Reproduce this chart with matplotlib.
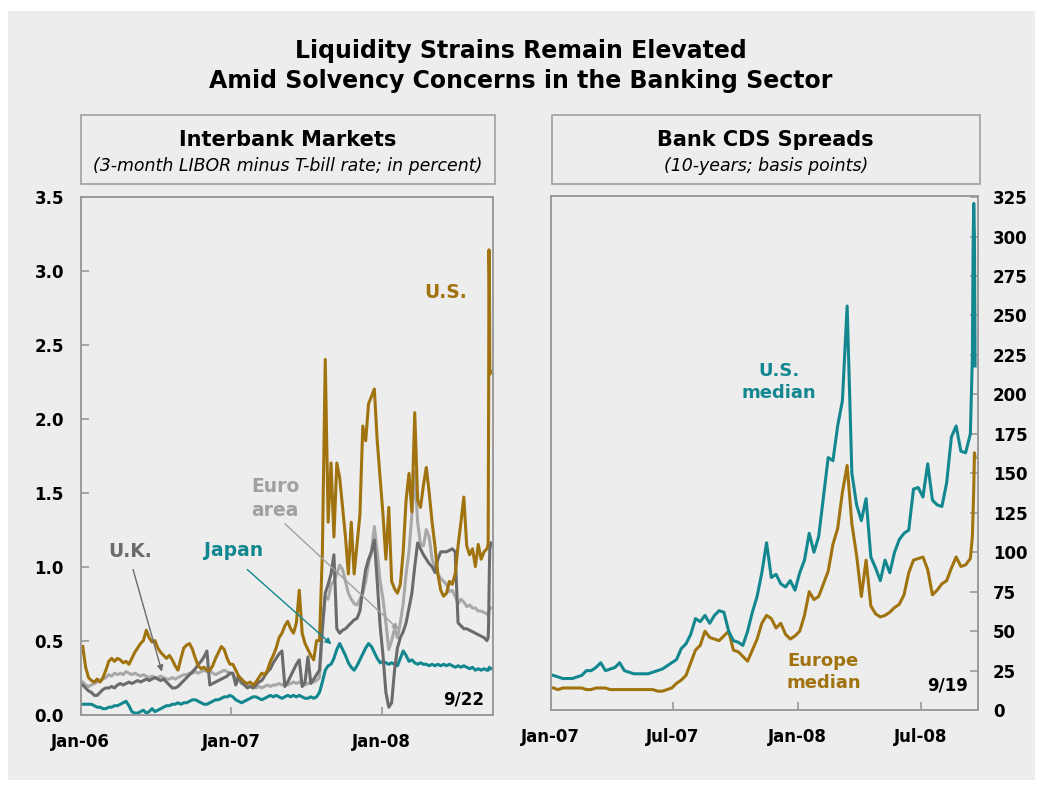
import matplotlib
matplotlib.use("Agg")
from matplotlib import pyplot as plt
from matplotlib.patches import Rectangle
import matplotlib.dates as mdates
from matplotlib.ticker import FormatStrFormatter, MultipleLocator
import pandas as pd

GOLD = "#A0730F"
TEAL = "#13878F"
DARK = "#6B6B6B"
LIGHT = "#A8A8A8"
BG = "#EDEDED"
FRAME = "#9A9A9A"

plt.rcParams["font.family"] = ["DejaVu Sans"]
plt.rcParams["font.weight"] = "bold"

# ---- interbank spreads: weekly (Fridays) then daily in mid-September 2008
lib_tail = ["2008-09-15", "2008-09-16", "2008-09-17", "2008-09-18", "2008-09-19", "2008-09-22"]
lib_dates = pd.date_range("2006-01-06", "2008-09-12", freq="W-FRI").append(pd.to_datetime(lib_tail))

us_libor = [
    # 2006
    0.46, 0.32, 0.25, 0.23, 0.22, 0.24, 0.22, 0.25, 0.30, 0.36, 0.38, 0.36, 0.38,
    0.37, 0.35, 0.36, 0.34, 0.38, 0.42, 0.45, 0.48, 0.50, 0.57, 0.52, 0.49, 0.50,
    0.45, 0.42, 0.40, 0.38, 0.40, 0.37, 0.33, 0.30, 0.38, 0.45, 0.47, 0.48, 0.44,
    0.38, 0.33, 0.31, 0.32, 0.30, 0.30, 0.33, 0.38, 0.42, 0.46, 0.44, 0.38, 0.34,
    # 2007
    0.34, 0.30, 0.26, 0.24, 0.22, 0.21, 0.22, 0.20, 0.22, 0.25, 0.28, 0.27, 0.30,
    0.36, 0.40, 0.45, 0.52, 0.55, 0.60, 0.63, 0.58, 0.55, 0.62, 0.84, 0.55, 0.48,
    0.44, 0.40, 0.37, 0.50, 0.50, 1.10, 2.40, 1.30, 1.70, 1.20, 1.70, 1.60, 1.40,
    1.20, 0.95, 1.30, 0.95, 1.15, 1.35, 1.95, 1.85, 2.10, 2.15, 2.20, 1.85, 1.60,
    # 2008
    1.35, 1.05, 1.40, 0.90, 0.85, 0.82, 0.88, 1.10, 1.45, 1.63, 1.37, 2.04, 1.45,
    1.40, 1.55, 1.67, 1.50, 1.30, 1.14, 0.95, 0.84, 0.80, 0.82, 0.90, 0.88, 0.95,
    1.14, 1.30, 1.47, 1.14, 1.08, 1.12, 1.00, 1.15, 1.05, 1.10, 1.12,
    1.15, 2.00, 3.14, 2.95, 2.30, 2.32,
]
euro_libor = [
    0.22, 0.20, 0.19, 0.20, 0.21, 0.22, 0.23, 0.24, 0.25, 0.27, 0.26, 0.28, 0.27,
    0.28, 0.27, 0.29, 0.28, 0.27, 0.28, 0.27, 0.26, 0.27, 0.26, 0.25, 0.26, 0.25,
    0.25, 0.26, 0.25, 0.24, 0.24, 0.25, 0.24, 0.25, 0.26, 0.27, 0.27, 0.28, 0.28,
    0.29, 0.28, 0.29, 0.30, 0.29, 0.30, 0.28, 0.27, 0.28, 0.29, 0.30, 0.29, 0.28,
    0.27, 0.25, 0.23, 0.21, 0.20, 0.20, 0.19, 0.19, 0.18, 0.19, 0.18, 0.19, 0.20,
    0.19, 0.20, 0.20, 0.21, 0.20, 0.21, 0.20, 0.21, 0.22, 0.21, 0.22, 0.21, 0.20,
    0.21, 0.22, 0.22, 0.23, 0.25, 0.55, 0.80, 0.78, 0.88, 0.90, 0.95, 1.01, 0.98,
    0.90, 0.82, 0.78, 0.75, 0.74, 0.78, 0.82, 0.90, 1.02, 1.10, 1.27, 1.10, 0.90,
    0.78, 0.62, 0.44, 0.50, 0.58, 0.52, 0.62, 0.75, 0.95, 1.10, 1.35, 1.64, 1.30,
    1.15, 1.14, 1.25, 1.20, 1.05, 1.00, 0.95, 0.92, 0.90, 0.88, 0.83, 0.84, 0.80,
    0.75, 0.78, 0.76, 0.73, 0.74, 0.72, 0.72, 0.70, 0.70, 0.69, 0.68,
    0.67, 0.68, 0.70, 0.71, 0.72, 0.72,
]
uk_libor = [
    0.20, 0.18, 0.16, 0.15, 0.13, 0.13, 0.15, 0.17, 0.18, 0.18, 0.19, 0.18, 0.20,
    0.21, 0.20, 0.21, 0.22, 0.21, 0.22, 0.23, 0.22, 0.23, 0.24, 0.23, 0.24, 0.25,
    0.24, 0.23, 0.24, 0.22, 0.20, 0.18, 0.18, 0.19, 0.21, 0.23, 0.25, 0.27, 0.29,
    0.31, 0.34, 0.36, 0.39, 0.43, 0.20, 0.21, 0.22, 0.23, 0.24, 0.25, 0.26, 0.28,
    0.28, 0.20, 0.26, 0.22, 0.20, 0.18, 0.19, 0.18, 0.20, 0.22, 0.23, 0.26, 0.29,
    0.31, 0.35, 0.38, 0.41, 0.43, 0.19, 0.22, 0.26, 0.30, 0.34, 0.37, 0.19, 0.22,
    0.39, 0.21, 0.24, 0.27, 0.30, 0.60, 0.82, 0.88, 0.95, 1.08, 0.58, 0.55, 0.57,
    0.58, 0.60, 0.62, 0.64, 0.65, 0.70, 0.85, 0.98, 1.05, 1.10, 1.18, 0.90, 0.60,
    0.40, 0.15, 0.05, 0.08, 0.30, 0.45, 0.52, 0.56, 0.62, 0.72, 0.82, 1.00, 1.16,
    1.12, 1.08, 1.05, 1.02, 1.00, 0.96, 1.05, 1.10, 1.10, 1.10, 1.11, 1.12, 1.10,
    0.62, 0.60, 0.58, 0.58, 0.57, 0.56, 0.55, 0.54, 0.53, 0.52, 0.50,
    0.52, 0.60, 0.80, 1.00, 1.12, 1.16,
]
japan_libor = [
    0.07, 0.07, 0.07, 0.07, 0.06, 0.05, 0.05, 0.04, 0.04, 0.05, 0.05, 0.06, 0.06,
    0.07, 0.08, 0.09, 0.06, 0.02, 0.01, 0.01, 0.02, 0.03, 0.01, 0.02, 0.04, 0.02,
    0.03, 0.04, 0.05, 0.06, 0.06, 0.07, 0.07, 0.08, 0.07, 0.08, 0.08, 0.09, 0.10,
    0.10, 0.09, 0.08, 0.07, 0.07, 0.08, 0.09, 0.10, 0.10, 0.11, 0.12, 0.12, 0.13,
    0.12, 0.10, 0.09, 0.08, 0.09, 0.10, 0.11, 0.12, 0.12, 0.11, 0.10, 0.11, 0.12,
    0.13, 0.12, 0.13, 0.12, 0.11, 0.12, 0.13, 0.12, 0.13, 0.12, 0.13, 0.12, 0.11,
    0.11, 0.12, 0.11, 0.12, 0.15, 0.22, 0.30, 0.33, 0.34, 0.38, 0.44, 0.48, 0.44,
    0.40, 0.35, 0.32, 0.30, 0.33, 0.37, 0.41, 0.45, 0.48, 0.46, 0.42, 0.38, 0.35,
    0.36, 0.35, 0.34, 0.35, 0.34, 0.33, 0.38, 0.43, 0.40, 0.36, 0.37, 0.35, 0.34,
    0.35, 0.34, 0.34, 0.33, 0.34, 0.33, 0.34, 0.33, 0.34, 0.33, 0.34, 0.33, 0.32,
    0.33, 0.32, 0.33, 0.32, 0.31, 0.32, 0.30, 0.31, 0.30, 0.31, 0.30,
    0.30, 0.31, 0.31, 0.32, 0.31, 0.31,
]

# ---- bank CDS medians (bp)
cds_tail = ["2008-09-15", "2008-09-16", "2008-09-17", "2008-09-18", "2008-09-19"]
cds_dates = pd.date_range("2007-01-05", "2008-09-12", freq="W-FRI").append(pd.to_datetime(cds_tail))

us_cds = [
    # 2007
    22, 21, 20, 20, 20, 21, 22, 25, 25, 27, 30, 25, 26,
    27, 30, 25, 24, 23, 23, 23, 23, 24, 25, 26, 28, 30,
    32, 39, 42, 48, 58, 56, 60, 55, 60, 63, 62, 50, 44,
    43, 41, 50, 62, 72, 87, 106, 84, 86, 80, 78, 82, 76,
    # 2008
    87, 95, 112, 100, 110, 135, 160, 158, 180, 196, 256, 150, 130,
    120, 134, 97, 90, 82, 95, 87, 100, 108, 112, 114, 140, 141,
    135, 156, 133, 130, 129, 144, 173, 180, 164, 163, 175,
    224, 290, 321, 300, 218,
]
europe_cds = [
    14, 13, 14, 14, 14, 14, 14, 13, 13, 14, 14, 14, 13,
    13, 13, 13, 13, 13, 13, 13, 13, 13, 12, 12, 13, 14,
    17, 19, 22, 30, 38, 41, 50, 46, 45, 44, 47, 50, 38,
    37, 34, 31, 38, 45, 55, 60, 58, 52, 55, 48, 45, 47,
    50, 60, 75, 70, 72, 80, 88, 105, 115, 138, 155, 118, 98,
    72, 95, 66, 61, 59, 60, 62, 65, 67, 73, 87, 95, 96,
    97, 89, 73, 76, 80, 82, 90, 97, 91, 92, 96,
    110, 125, 140, 163, 160,
]

W, H = 1043, 787


def px_box(x0, y0, x1, y1):
    # pixel box (top-left origin) -> figure fraction rect
    return [x0 / W, 1 - y1 / H, (x1 - x0) / W, (y1 - y0) / H]


fig = plt.figure(figsize=(W / 100, H / 100), dpi=100, facecolor="white")
r = px_box(8, 11, 1035, 780)
fig.add_artist(Rectangle((r[0], r[1]), r[2], r[3], transform=fig.transFigure,
                         facecolor=BG, edgecolor="none", zorder=-10))

fig.text(0.4995, 0.916, "Liquidity Strains Remain Elevated\nAmid Solvency Concerns in the Banking Sector",
         ha="center", va="center", fontsize=17, fontweight="bold", linespacing=1.35)


def header(x0, x1, title, subtitle):
    r = px_box(x0, 115, x1, 184)
    fig.add_artist(Rectangle((r[0], r[1]), r[2], r[3], transform=fig.transFigure,
                             facecolor=BG, edgecolor="#A0A0A0", lw=1.2))
    xc = r[0] + r[2] / 2
    fig.text(xc, 1 - 140 / H, title, ha="center", va="center", fontsize=15, fontweight="bold")
    fig.text(xc, 1 - 166 / H, subtitle, ha="center", va="center", fontsize=12.5,
             fontweight="normal", style="italic")


header(80.5, 495, "Interbank Markets", "(3-month LIBOR minus T-bill rate; in percent)")
header(551.6, 980, "Bank CDS Spreads", "(10-years; basis points)")


def style_axis(ax):
    ax.set_facecolor(BG)
    for s in ax.spines.values():
        s.set_color(FRAME)
        s.set_linewidth(1.4)
    ax.tick_params(direction="in", length=6, width=1.2, color=FRAME, labelsize=12)
    ax.tick_params(axis="x", pad=13)


ax1 = fig.add_axes(px_box(80.7, 196.6, 492.7, 714.6))
style_axis(ax1)
ax1.tick_params(axis="y", pad=12)
ax1.plot(lib_dates, japan_libor, color=TEAL, lw=2.2)
ax1.plot(lib_dates, euro_libor, color=LIGHT, lw=2.2)
ax1.plot(lib_dates, uk_libor, color=DARK, lw=2.2)
ax1.plot(lib_dates, us_libor, color=GOLD, lw=2.2)
ax1.set_xlim(pd.Timestamp("2006-01-01"), pd.Timestamp("2008-09-26"))
ax1.set_ylim(0, 3.5)
ax1.yaxis.set_major_locator(MultipleLocator(0.5))
ax1.yaxis.set_major_formatter(FormatStrFormatter("%.1f"))
ax1.xaxis.set_major_locator(mdates.YearLocator())
ax1.xaxis.set_major_formatter(mdates.DateFormatter("%b-%y"))

lab = dict(fontsize=13.5, fontweight="bold", ha="center", va="center", linespacing=1.3)
arrow = dict(arrowstyle="-|>", lw=1, mutation_scale=9, shrinkA=0, shrinkB=0)
ax1.text(pd.Timestamp("2008-06-03"), 2.85, "U.S.", color=GOLD, **lab)
ax1.text(pd.Timestamp("2006-05-02"), 1.105, "U.K.", color=DARK, **lab)
ax1.text(pd.Timestamp("2007-01-06"), 1.11, "Japan", color=TEAL, **lab)
ax1.text(pd.Timestamp("2007-04-17"), 1.46, "Euro\narea", color="#A0A0A0", **lab)
ax1.annotate("", xy=(pd.Timestamp("2006-07-17"), 0.29), xytext=(pd.Timestamp("2006-05-08"), 0.98),
             arrowprops=dict(color=DARK, **arrow))
ax1.annotate("", xy=(pd.Timestamp("2007-09-01"), 0.475), xytext=(pd.Timestamp("2007-02-09"), 0.98),
             arrowprops=dict(color=TEAL, **arrow))
ax1.annotate("", xy=(pd.Timestamp("2008-02-11"), 0.575), xytext=(pd.Timestamp("2007-05-11"), 1.29),
             arrowprops=dict(color="#A0A0A0", **arrow))
ax1.text(0.978, 0.029, "9/22", transform=ax1.transAxes, ha="right", va="center", fontsize=12)

ax2 = fig.add_axes(px_box(550.6, 195.5, 977.8, 710.1))
style_axis(ax2)
ax2.yaxis.tick_right()
ax2.tick_params(axis="y", pad=11)
ax2.plot(cds_dates, europe_cds, color=GOLD, lw=2.2)
ax2.plot(cds_dates, us_cds, color=TEAL, lw=2.2)
ax2.set_xlim(pd.Timestamp("2007-01-01"), pd.Timestamp("2008-09-23"))
ax2.set_ylim(0, 326)
ax2.yaxis.set_major_locator(MultipleLocator(25))
ax2.xaxis.set_major_locator(mdates.MonthLocator(bymonth=[1, 7]))
ax2.xaxis.set_major_formatter(mdates.DateFormatter("%b-%y"))

ax2.text(pd.Timestamp("2007-12-04"), 207.6, "U.S.\nmedian", color=TEAL, **dict(lab, fontsize=13))
ax2.text(pd.Timestamp("2008-02-08"), 23.9, "Europe\nmedian", color=GOLD, **dict(lab, fontsize=13))
ax2.text(0.976, 0.047, "9/19", transform=ax2.transAxes, ha="right", va="center", fontsize=12)

plt.savefig("out.png", dpi=100, facecolor=fig.get_facecolor())
